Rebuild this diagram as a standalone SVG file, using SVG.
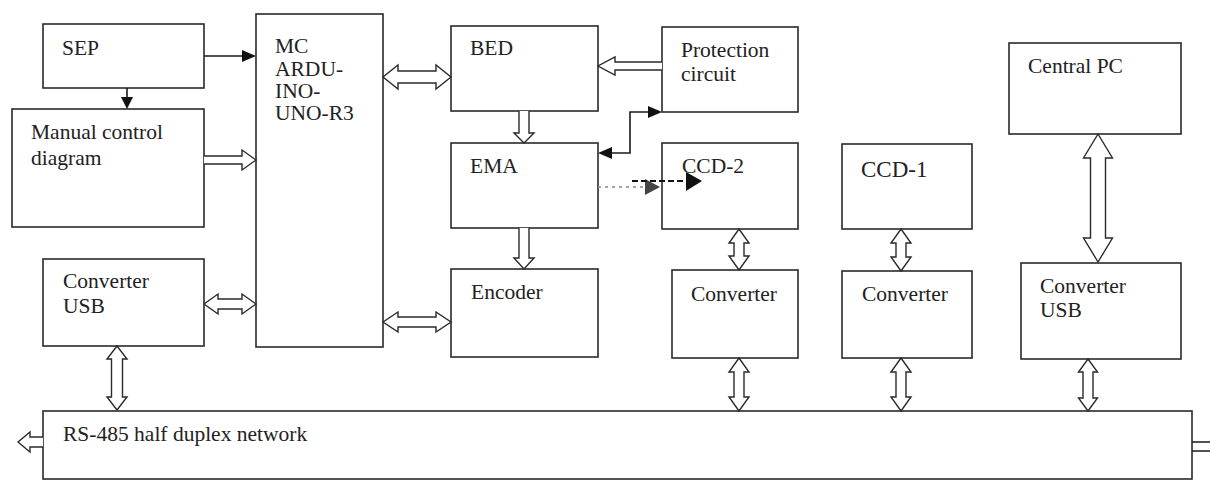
<svg xmlns="http://www.w3.org/2000/svg" width="1210" height="482" viewBox="0 0 1210 482">
<style>
.box{fill:#fff;stroke:#2a2a2a;stroke-width:1.6}
.t{font-family:"Liberation Serif","Times New Roman",serif;font-size:21.5px;fill:#222}
.big{font-size:23px}
.ha{fill:#fff;stroke:#2a2a2a;stroke-width:1.4;stroke-linejoin:miter}
.ln{fill:none;stroke:#1a1a1a;stroke-width:1.6}
.hd{fill:#111;stroke:none}
</style>
<rect width="1210" height="482" fill="#fff"/>
<g id="sep"><rect class="box" x="43" y="24" width="161" height="64"/><text class="t" x="62" y="55">SEP</text></g>
<g id="manual"><rect class="box" x="12" y="109" width="192" height="118"/><text class="t" x="31" y="139">Manual control</text><text class="t" x="31" y="165">diagram</text></g>
<g id="mc"><rect class="box" x="256" y="14" width="127" height="333"/><text class="t" x="275" y="53">MC</text><text class="t" x="275" y="76">ARDU-</text><text class="t" x="275" y="98">INO-</text><text class="t" x="275" y="120">UNO-R3</text></g>
<g id="conv-usb-left"><rect class="box" x="43" y="259" width="161" height="87"/><text class="t" x="63" y="288">Converter</text><text class="t" x="63" y="313">USB</text></g>
<g id="bed"><rect class="box" x="451" y="26" width="147" height="85"/><text class="t" x="470" y="55">BED</text></g>
<g id="protection"><rect class="box" x="662" y="27" width="136" height="85"/><text class="t" x="681" y="57">Protection</text><text class="t" x="681" y="81">circuit</text></g>
<g id="ema"><rect class="box" x="451" y="143" width="147" height="85"/><text class="t" x="470" y="173">EMA</text></g>
<g id="encoder"><rect class="box" x="451" y="269" width="147" height="88"/><text class="t" x="471" y="299">Encoder</text></g>
<g id="ccd2"><rect class="box" x="662" y="143" width="136" height="86"/><text class="t" x="682" y="173">CCD-2</text></g>
<g id="conv1"><rect class="box" x="672" y="270" width="126" height="88"/><text class="t" x="691" y="301">Converter</text></g>
<g id="ccd1"><rect class="box" x="842" y="144" width="130" height="85"/><text class="t big" x="861" y="177">CCD-1</text></g>
<g id="conv2"><rect class="box" x="842" y="271" width="130" height="87"/><text class="t" x="862" y="301">Converter</text></g>
<g id="central-pc"><rect class="box" x="1009" y="43" width="172" height="91"/><text class="t" x="1028" y="73">Central PC</text></g>
<g id="conv-usb-right"><rect class="box" x="1021" y="263" width="160" height="96"/><text class="t" x="1040" y="293">Converter</text><text class="t" x="1040" y="317">USB</text></g>
<g id="bus"><rect class="box" x="43" y="411" width="1149" height="68"/><text class="t" x="63" y="441">RS-485 half duplex network</text></g>
<g id="connectors">
<path class="ha" d="M383,77 L398,65 L398,71 L436,71 L436,65 L451,77 L436,89 L436,83 L398,83 L398,89 Z"/>
<path class="ha" d="M204,304 L218,294 L218,299 L242,299 L242,294 L256,304 L242,314 L242,309 L218,309 L218,314 Z"/>
<path class="ha" d="M383,322 L398,312 L398,317 L436,317 L436,312 L451,322 L436,332 L436,327 L398,327 L398,332 Z"/>
<path class="ha" d="M204,156 L242,156 L242,150 L256,160 L242,170 L242,164 L204,164"/>
<path class="ha" d="M662,62 L615,62 L615,57 L598,66 L615,75 L615,70 L662,70"/>
<path class="ha" d="M519,111 L519,133 L514,133 L524,143 L534,133 L529,133 L529,111"/>
<path class="ha" d="M519,228 L519,258 L514,258 L524,269 L534,258 L529,258 L529,228"/>
<path class="ha" d="M117,346 L127,359 L122.5,359 L122.5,397 L127,397 L117,410 L107,397 L111.5,397 L111.5,359 L107,359 Z"/>
<path class="ha" d="M739,229 L749,243 L744,243 L744,256 L749,256 L739,270 L729,256 L734,256 L734,243 L729,243 Z"/>
<path class="ha" d="M739,358 L749,372 L744,372 L744,397 L749,397 L739,411 L729,397 L734,397 L734,372 L729,372 Z"/>
<path class="ha" d="M901,229 L911,243 L906,243 L906,257 L911,257 L901,271 L891,257 L896,257 L896,243 L891,243 Z"/>
<path class="ha" d="M901,358 L911,372 L906,372 L906,397 L911,397 L901,411 L891,397 L896,397 L896,372 L891,372 Z"/>
<path class="ha" d="M1098,134 L1112.5,158 L1105.5,158 L1105.5,238 L1112.5,238 L1098,262 L1083.5,238 L1090.5,238 L1090.5,158 L1083.5,158 Z"/>
<path class="ha" d="M1088,359 L1097.5,372 L1093,372 L1093,398 L1097.5,398 L1088,411 L1078.5,398 L1083,398 L1083,372 L1078.5,372 Z"/>
<path class="ha" d="M43,437 L30,437 L30,432 L18,442 L30,452 L30,447 L43,447"/>
<path class="ln" d="M1192,442 L1212,442 M1192,451 L1212,451" style="stroke-width:1.4"/>
<line class="ln" x1="204" y1="56" x2="244" y2="56"/>
<polygon class="hd" points="256,56 242,50 242,62"/>
<line class="ln" x1="127" y1="88" x2="127" y2="98"/>
<polygon class="hd" points="127,109 121,97 133,97"/>
<polyline class="ln" points="611,153 630,153 630,112 649,112"/>
<polygon class="hd" points="598,153 612,147 612,159"/>
<polygon class="hd" points="662,112 648,106 648,118"/>
<line x1="598" y1="187" x2="646" y2="187" stroke="#888" stroke-width="1.6" stroke-dasharray="3,4"/>
<polygon points="660,187 645,179 645,195" fill="#444"/>
<line x1="632" y1="181" x2="686" y2="181" stroke="#111" stroke-width="2" stroke-dasharray="6,3"/>
<polygon class="hd" points="702,181 686,172 686,191"/>
</g>
</svg>
